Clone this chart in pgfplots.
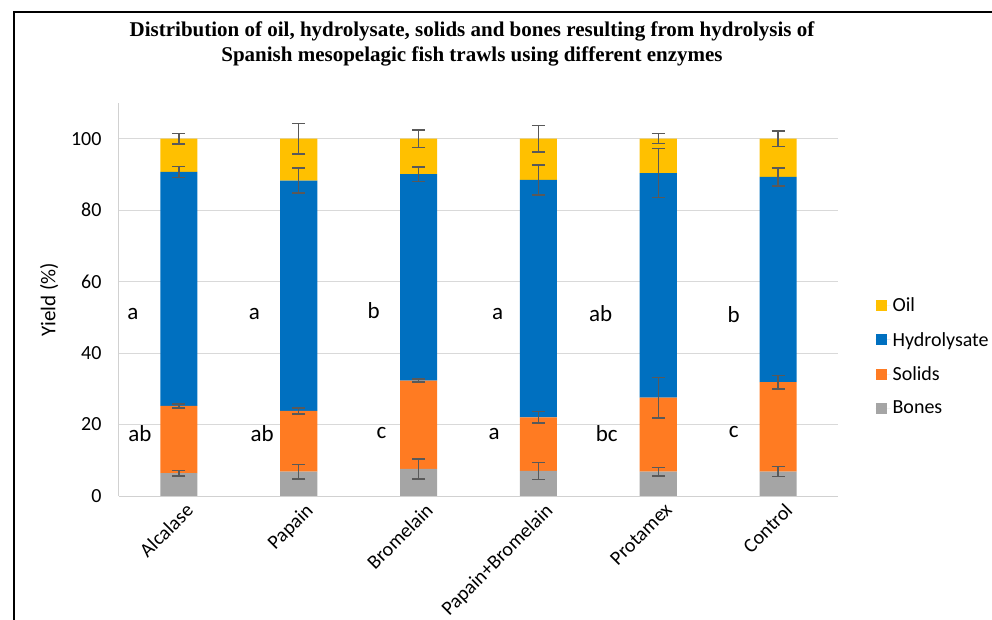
\documentclass[border=0pt]{standalone}
\usepackage{fontspec}
\setmainfont{Carlito}
\newfontfamily\titlefont{Liberation Serif}
\usepackage{pgfplots}
\pgfplotsset{compat=1.18}
\definecolor{oilc}{HTML}{FFC000}
\definecolor{hydc}{HTML}{0070C0}
\definecolor{solc}{HTML}{FF7B22}
\definecolor{bonc}{HTML}{A5A5A5}
\definecolor{errc}{HTML}{595959}
\newcommand\fs{\fontsize{20bp}{24bp}\selectfont}
\newcommand\fl{\fontsize{23bp}{26bp}\selectfont}
\pgfplotsset{errst/.style={error bars/.cd, y dir=both, y explicit,
  error bar style={line width=1.4bp, draw=errc},
  error mark options={rotate=90, draw=errc, line width=1.4bp, mark size=6.5bp}}}
\begin{document}
\begin{tikzpicture}
\path[use as bounding box] (0,0) rectangle (992bp,620bp);
\draw[line width=2.5bp] (14bp,-5bp) -- (14bp,608bp) -- (1000bp,608bp);
\node[font=\titlefont\bfseries\fontsize{21bp}{24.5bp}\selectfont, align=center] at (472bp,576bp)
 {Distribution of oil, hydrolysate, solids and bones resulting from hydrolysis of\\Spanish mesopelagic fish trawls using different enzymes};
\begin{axis}[
  at={(119bp,124bp)}, anchor=south west,
  scale only axis, width=719bp, height=393bp,
  ybar stacked, bar width=0.31,
  xmin=-0.5, xmax=5.5, ymin=0, ymax=110,
  xtick={0,...,5},
  xticklabels={Alcalase,Papain,Bromelain,Papain+Bromelain,Protamex,Control},
  ytick={0,20,...,100},
  ymajorgrids, grid style={draw=black!15, line width=1bp},
  axis x line=bottom, axis y line=left,
  axis line style={-, draw=black!18, line width=1bp},
  tick style={draw=none}, major tick length=0pt,
  /pgf/number format/assume math mode=true,
  yticklabel style={font=\fs, xshift=-14bp},
  xticklabel style={font=\fs, rotate=45, anchor=north east, inner sep=2bp, xshift=2bp, yshift=-6bp},
  ylabel={Yield (\%)},
  ylabel style={font=\fontsize{21bp}{24bp}\selectfont, at={(rel axis cs:-0.097,0.5)}, anchor=center},
  reverse legend,
  legend style={at={(rel axis cs:1.052,0.51)}, anchor=north west, draw=none, fill=none,
    font=\fs, row sep=15bp, inner sep=0pt, legend cell align=left},
  legend image code/.code={\fill[#1] (0bp,-5.5bp) rectangle (11bp,5.5bp);\path (0bp,0bp) -- (15bp,0bp);},
]
\addplot[fill=bonc, draw=none, errst] coordinates {
 (0,6.4) +- (0,0.8) (1,6.8) +- (0,2.0) (2,7.6) +- (0,2.8)
 (3,7.0) +- (0,2.4) (4,6.8) +- (0,1.2) (5,6.8) +- (0,1.4)};
\addplot[fill=solc, draw=none, errst] coordinates {
 (0,18.8) +- (0,0.6) (1,17.0) +- (0,0.8) (2,24.7) +- (0,0.4)
 (3,15.0) +- (0,1.6) (4,20.7) +- (0,5.7) (5,25.1) +- (0,1.9)};
\addplot[fill=hydc, draw=none, errst] coordinates {
 (0,65.5) +- (0,1.6) (1,64.5) +- (0,3.5) (2,57.8) +- (0,2.0)
 (3,66.5) +- (0,4.2) (4,62.9) +- (0,6.8) (5,57.4) +- (0,2.5)};
\addplot[fill=oilc, draw=none, errst] coordinates {
 (0,9.3) +- (0,1.5) (1,11.7) +- (0,4.3) (2,9.9) +- (0,2.4)
 (3,11.5) +- (0,3.7) (4,9.6) +- (0,1.4) (5,10.7) +- (0,2.2)};
\legend{Bones,Solids,Hydrolysate,Oil}
\node[font=\fl] at (axis cs:-0.385,51) {a};
\node[font=\fl] at (axis cs:-0.325,17.4) {ab};
\node[font=\fl] at (axis cs:0.63,51) {a};
\node[font=\fl] at (axis cs:0.695,17.4) {ab};
\node[font=\fl] at (axis cs:1.625,52) {b};
\node[font=\fl] at (axis cs:1.69,17.6) {c};
\node[font=\fl] at (axis cs:2.66,51) {a};
\node[font=\fl] at (axis cs:2.63,17.4) {a};
\node[font=\fl] at (axis cs:3.52,51) {ab};
\node[font=\fl] at (axis cs:3.57,17.4) {bc};
\node[font=\fl] at (axis cs:4.63,50.7) {b};
\node[font=\fl] at (axis cs:4.63,18) {c};
\end{axis}
\end{tikzpicture}
\end{document}
